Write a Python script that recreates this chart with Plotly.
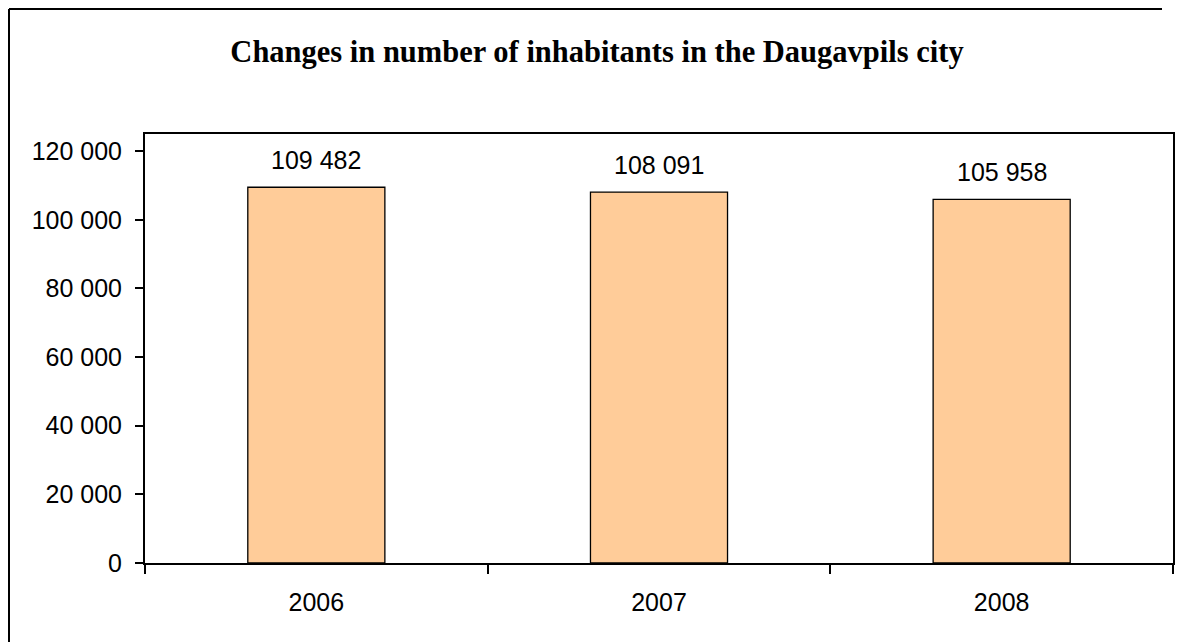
import plotly.graph_objects as go

years = ["2006", "2007", "2008"]
inhabitants = [109482, 108091, 105958]
title_text = "Changes in number of inhabitants in the Daugavpils city"
y_tickvals = [0, 20000, 40000, 60000, 80000, 100000, 120000]

W, H = 1184, 642
OFF = 8  # page body offset
L, R, T, B = 145 - OFF, 11 + OFF, 134 - OFF, 79 + OFF
pw, ph = W - L - R, H - T - B


def px_to_paper_x(px):
    return (px - L) / pw


def px_to_paper_y(py):
    return (T + ph - py) / ph


fig = go.Figure()
fig.add_trace(go.Bar(
    x=years, y=inhabitants,
    marker=dict(color="#FFCC99", line=dict(color="black", width=1.3)),
    hoverinfo="skip",
))

for i, v in enumerate(inhabitants):
    fig.add_annotation(
        x=i, y=v, xref="x", yref="y",
        text=f"{v:,}".replace(",", " "),
        showarrow=False, yanchor="bottom", yshift=11,
        font=dict(family="Liberation Sans, Arial", size=25, color="black"),
    )

# outer chart frame: only the left and top edges fall inside the picture
frame = dict(color="black", width=2)
fig.add_shape(type="line", xref="paper", yref="paper",
              x0=px_to_paper_x(1), x1=px_to_paper_x(1),
              y0=px_to_paper_y(1), y1=px_to_paper_y(H), line=frame)
fig.add_shape(type="line", xref="paper", yref="paper",
              x0=px_to_paper_x(1), x1=px_to_paper_x(W - 30),
              y0=px_to_paper_y(1), y1=px_to_paper_y(1), line=frame)

fig.update_layout(
    width=W, height=H,
    margin=dict(l=L, r=R, t=T, b=B, autoexpand=False),
    paper_bgcolor="white", plot_bgcolor="white",
    showlegend=False,
    bargap=0.6,
    separators=". ",
    title=dict(
        text="<b>" + title_text + "</b>",
        x=(597 - OFF) / W, xanchor="center", y=1 - (51 - OFF) / H, yanchor="middle",
        font=dict(family="Liberation Serif, Times New Roman", size=30.5, color="black"),
    ),
    xaxis=dict(
        type="category", automargin=False,
        showline=True, linecolor="black", linewidth=2, mirror=True,
        ticks="outside", tickson="boundaries", ticklen=9, tickwidth=1.5, tickcolor="black",
        showgrid=False, tickangle=0,
        tickfont=dict(family="Liberation Sans, Arial", size=25, color="black"),
        ticklabelstandoff=16,
    ),
    yaxis=dict(
        range=[0, 125000], automargin=False,
        tickvals=y_tickvals,
        tickformat=",d",
        showline=True, linecolor="black", linewidth=2, mirror=True,
        ticks="outside", ticklen=8, tickwidth=1.5, tickcolor="black",
        showgrid=False, zeroline=False,
        tickfont=dict(family="Liberation Sans, Arial", size=25, color="black"),
        ticklabelstandoff=8,
    ),
)

fig.write_html("out.html")
